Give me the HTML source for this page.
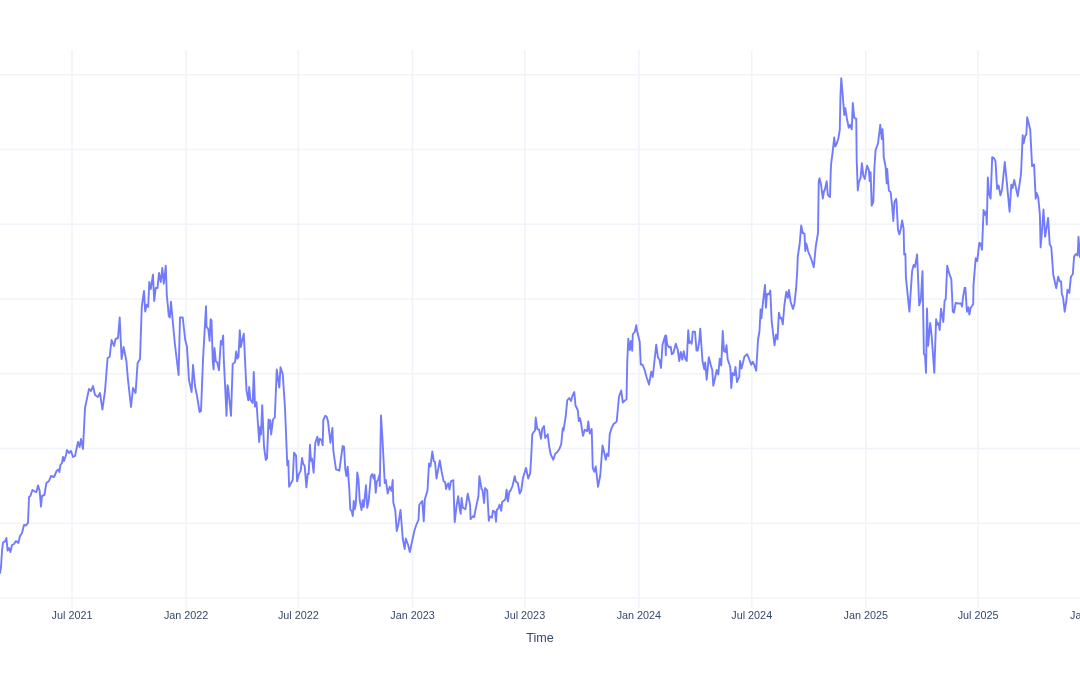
<!DOCTYPE html>
<html><head><meta charset="utf-8"><style>
html,body{margin:0;padding:0;background:#fff;width:1080px;height:675px;overflow:hidden}
svg{display:block;will-change:transform}
text{font-family:"Liberation Sans",sans-serif;fill:#34496a}
</style></head><body>
<svg width="1080" height="675" viewBox="0 0 1080 675">
<rect width="1080" height="675" fill="#fff"/>
<g stroke="#f0f3f9" stroke-width="1.6" fill="none"><line x1="0" y1="74.71" x2="1080" y2="74.71"/><line x1="0" y1="149.46" x2="1080" y2="149.46"/><line x1="0" y1="224.21" x2="1080" y2="224.21"/><line x1="0" y1="298.95" x2="1080" y2="298.95"/><line x1="0" y1="373.70" x2="1080" y2="373.70"/><line x1="0" y1="448.45" x2="1080" y2="448.45"/><line x1="0" y1="523.20" x2="1080" y2="523.20"/><line x1="0" y1="597.95" x2="1080" y2="597.95"/><line x1="72.00" y1="50" x2="72.00" y2="607.5"/><line x1="186.11" y1="50" x2="186.11" y2="607.5"/><line x1="298.37" y1="50" x2="298.37" y2="607.5"/><line x1="412.48" y1="50" x2="412.48" y2="607.5"/><line x1="524.74" y1="50" x2="524.74" y2="607.5"/><line x1="638.85" y1="50" x2="638.85" y2="607.5"/><line x1="751.73" y1="50" x2="751.73" y2="607.5"/><line x1="865.84" y1="50" x2="865.84" y2="607.5"/><line x1="978.10" y1="50" x2="978.10" y2="607.5"/><line x1="1092.21" y1="50" x2="1092.21" y2="607.5"/></g>
<g font-size="10.8" text-anchor="middle"><text x="72.00" y="618.7">Jul 2021</text><text x="186.11" y="618.7">Jan 2022</text><text x="298.37" y="618.7">Jul 2022</text><text x="412.48" y="618.7">Jan 2023</text><text x="524.74" y="618.7">Jul 2023</text><text x="638.85" y="618.7">Jan 2024</text><text x="751.73" y="618.7">Jul 2024</text><text x="865.84" y="618.7">Jan 2025</text><text x="978.10" y="618.7">Jul 2025</text><text x="1092.21" y="618.7">Jan 2026</text></g>
<text x="540" y="642.2" font-size="12.6" text-anchor="middle">Time</text>
<path d="M0,573 L1,567 L2,551 L3,542.6 L5,541.4 L6.4,538 L7.6,550.6 L9,548 L10.4,552 L12,545 L14,544 L16,541 L18.4,543 L20,536 L22,533 L24,525 L26,525.4 L28,523 L29,497 L30.4,496 L32.4,490 L35,491.6 L36.4,492 L38,485.4 L39.6,490.6 L41,506.6 L42,496 L44.4,495 L46.4,483 L49,481 L51,476 L54,477 L56.6,471 L58.4,469.4 L59.4,472 L60.4,465 L62,463 L63,457 L64,461 L66,455 L67,450 L69,453 L71,451 L73,457 L75,456 L78,442 L79.6,447 L81,439 L83,449 L85,408 L89,389 L91,391 L93,386 L95,395 L98,397 L100,393 L102.4,409.6 L105,391 L107.6,358 L109.6,357 L111.6,340 L114,346 L115.6,339 L118,338 L119.7,317.5 L121.6,359 L123.6,347 L126.4,361 L128,380 L131,407 L133,388 L135.6,393 L137.6,363 L140,359 L141.75,307 L144,291 L145.2,311.5 L146.7,304.75 L148.2,307 L149.25,282 L150.75,289 L153,274.75 L154.2,301 L155.7,288 L157.5,288 L159,273 L160.8,282 L162.3,268 L163.8,283.75 L165.75,265.75 L166.8,295 L168,307 L168.75,316 L169.8,317.5 L171,301.75 L172.8,322 L175,345 L178.6,375 L180,317.5 L182.7,317.5 L185.25,340 L187,347 L189,380 L191.6,392 L193,365 L195,386 L197,396 L199.6,412 L201,411 L203,360 L206,306.2 L206.5,326.6 L208.3,329.3 L209.6,340.9 L210.6,319.2 L211.5,320.4 L212.8,362.2 L213.6,369.3 L214.5,348 L215.8,361.3 L217.2,362.2 L219,370.2 L220.8,340.9 L222,344.4 L223.1,335.5 L223.8,359.5 L226.1,406.6 L226.5,415.75 L227.5,385.3 L228,386.5 L231,415.75 L232.7,363.9 L235,362.2 L236.2,351.5 L237.3,358.6 L238.5,356.8 L239.8,330.2 L240.8,347 L242.1,340.9 L243.8,333.7 L246.5,390.6 L248.3,400.4 L249.2,387 L250.4,399.5 L252.7,403 L253.8,371.9 L255,406.6 L256.5,402.25 L257.7,420.25 L259.2,442 L260.25,427 L261,434.5 L262.2,405.25 L264,446.5 L265.8,460 L267,458.5 L268.5,419.5 L269.7,428.5 L270.3,420.25 L271.2,434.5 L273,419.5 L274.8,417.25 L276.75,369.5 L279.3,387.5 L280.5,367.25 L282.75,374 L285,408.25 L287.3,465.3 L288.3,460.7 L289.1,486.7 L292.7,480 L294,452.7 L296,455.3 L297.1,481.3 L298.7,474.7 L300.7,470.7 L302,458 L303.3,464 L304.7,466 L306.4,487.3 L307.7,474 L308.7,474 L310,444.7 L310.9,460.7 L312,458.7 L313.6,472.7 L315.3,442.7 L317.3,436.7 L318.4,445.3 L319.7,438.7 L321.6,440 L322.7,445.3 L323.3,420 L325.3,415.7 L326.7,416.7 L328,421.3 L330.4,442.7 L332.4,428 L333.3,450.7 L336,469.3 L339.3,470.7 L342.7,446 L344,446.7 L345.3,469.3 L346.4,476 L347.7,466.7 L349.3,489.3 L350.25,509.25 L351.75,511.5 L352.8,516 L353.7,501 L354.75,509.25 L355.8,504 L357.3,472.5 L358.5,480 L359.7,500.25 L361.5,510 L362.7,500.25 L363.75,507 L366,485.25 L367.2,507.75 L368.7,501 L370.8,476.25 L372.3,474 L373.5,478.5 L374.55,474.75 L375.75,492.75 L376.8,481.5 L378,480 L379.5,474.75 L379.8,486 L381,415.5 L382.5,439.5 L384.75,483 L385.8,480 L387.75,493.5 L389.7,486.75 L391.5,491 L392.7,480 L393.3,502.5 L395.25,510 L396.75,531 L398.25,525 L400.5,510 L402.75,538.5 L404.7,549 L405.75,538.5 L408,544.5 L409.8,552 L411.75,543 L414.3,531 L416.25,525 L418.5,519.75 L419.25,504.75 L422.25,501 L423.75,521.25 L424.8,499.5 L427.5,490.5 L429,463.5 L430.5,466.5 L432.3,451.5 L433.8,461.25 L435,462 L436.5,478.5 L439.8,460.5 L441.6,471.4 L443.6,481.3 L445.2,482.3 L446,489 L447.3,484.9 L448.3,483.3 L449.5,489.6 L450.9,481.3 L453.3,480.2 L454.7,522.2 L456.6,505.6 L458.2,496.3 L459.7,508.8 L460.7,513.9 L461.6,497.9 L462.8,507.7 L465.4,509.3 L467.8,493.7 L470.1,505.1 L470.6,519.1 L473.2,516 L474.2,517.1 L475.3,510.8 L478.4,496.3 L479.4,476.1 L481.5,489 L482.5,490.1 L484.1,503 L485.1,488 L487.2,490.6 L488.8,520.7 L489.8,516.5 L491.9,517.6 L492.9,510.8 L495,511.9 L496,521.7 L496.8,509.8 L498.1,508.8 L499.6,504.6 L501.2,510.8 L502.2,502 L505.4,499.4 L506.6,489.6 L507.9,501.5 L509.5,491.1 L510.25,491.25 L512.5,486 L514.75,476.25 L515.8,481.5 L517.75,483 L519.7,493.5 L521.2,490.5 L523,477.75 L526,468 L528.25,478.5 L530.2,473.25 L531.25,456 L532.3,434.25 L533.8,432 L535,430.5 L535.75,417.5 L537.25,429 L539.2,429.75 L541,438.75 L542.2,429 L544,426 L545.2,438 L547.75,434.25 L549.25,447 L550.75,454.5 L553.3,459.75 L555.25,453.75 L557.2,452.25 L559.3,449.25 L561.25,444 L562.75,428.25 L563.5,430.5 L565.75,416 L567.25,400.25 L569.2,398 L571,401 L572.5,395.75 L574.3,392 L575.5,405.5 L577.75,410 L578.8,421 L580,418.25 L580.75,421.5 L583,435.75 L584.8,429.75 L587.2,431.25 L588.25,421.5 L589.75,433.5 L591.7,429 L592.75,468 L594.25,471.75 L595.75,466.5 L596.8,475.5 L598,486.75 L600.25,475.5 L602.5,445.5 L604,451.5 L605.8,459.75 L607,453.75 L608.5,456 L609.7,434.25 L611.8,427.5 L613.75,423.75 L616,422.25 L616.75,421 L619,396.5 L621.25,390.5 L622.75,402.5 L625,400.25 L626.5,399.5 L627.25,362 L628.3,338.75 L629.8,350 L631,341 L632.2,350.75 L632.8,334.25 L634.75,332 L636.25,325.25 L637,330.5 L639.7,341.75 L640.75,364.25 L642.7,365 L644.5,369.5 L646.75,377.75 L649,384.5 L651.25,371.75 L652.75,377 L656.2,344.75 L658,357.5 L659.5,359.75 L661,368 L662.5,344.75 L664,339.5 L665.2,335.75 L665.8,355.25 L666.2,335.5 L667.25,344.5 L669.2,347.5 L670.7,346.75 L671.75,354.25 L673.25,353.5 L675.8,343.75 L677.75,349.75 L679.25,361 L680.75,352 L682.25,359.5 L683.75,351.25 L685.25,358.75 L686.75,361 L688.25,330.25 L689.3,343 L690.5,341.5 L691.7,343.75 L692.75,331.75 L695,331.75 L696.5,350.5 L697.7,350.5 L699.2,341.5 L700.25,328.75 L701.75,350.5 L702.5,361 L704.3,369.25 L705.2,362.5 L706.7,379.75 L708.8,357.25 L710.75,364.75 L712.25,370 L713.3,385.75 L714.5,380.5 L716.75,370 L718.25,374.5 L719.75,358.75 L721.25,365.5 L722.75,331 L724,351.25 L725.5,352 L726.5,345.25 L727.7,359.5 L730.25,367 L731.3,388 L732.5,373 L734.3,375.25 L735.5,367 L737,382 L739.25,376.75 L740,361 L741.5,368.5 L744.5,356.5 L747.2,354.25 L749,358.75 L751.25,364.75 L752.75,361.75 L754.25,364.75 L756.2,370.75 L758,340 L759.5,331 L760.6,309.4 L761.4,318.3 L762.8,303.9 L765,285 L765.9,307.8 L767,293.9 L768.9,294.4 L770.3,290.6 L771.7,321.7 L774.5,345.25 L776,334.75 L777.5,339.25 L778.9,312.8 L780.3,318.3 L781.4,317.8 L782.8,324.4 L784.4,305 L786.3,291.7 L787.8,297.8 L788.9,290 L790.6,301.7 L793,308.9 L794.4,303.9 L796.1,288.3 L797.2,271.7 L797.75,257 L799.7,243.5 L801.2,225.5 L802.7,233 L804.5,233.75 L805.25,251 L806.3,243.5 L808.25,251.75 L810.5,257 L812,261.5 L813.8,267.2 L815.75,246.5 L818,233 L818.75,181.25 L819.5,178.25 L821,184.25 L822.8,198.5 L824,191 L824.75,190.25 L826.7,181.25 L827.75,194.75 L830,197 L830.75,171 L831.2,163 L832.7,151.75 L834.2,137.5 L835.25,146.5 L836.75,143.5 L838.25,139 L839.75,130 L840.5,94.75 L841.25,78.25 L842.75,95.5 L844.25,115 L845.3,108.25 L846.8,118 L848.75,127.75 L850.25,124.75 L851.75,129.25 L852.8,103 L854.3,118 L856.25,118.75 L856.7,160 L857.8,190.5 L858.9,182.2 L860.6,177.8 L861.9,163.3 L863.3,175.6 L864.8,178.9 L867,165.6 L868.9,170 L869.7,181.1 L870.6,172.2 L871.7,205.6 L873.3,202.2 L874.4,167.8 L875.6,150 L878,143.5 L880.25,124.75 L881.75,139 L882.5,129.25 L883.2,139 L883.7,156.7 L885.6,166.7 L886.7,183.3 L887.2,168.9 L888.1,182.2 L888.9,190.5 L890.6,192.2 L892.2,206.7 L893.3,221 L894.4,202.2 L896.1,198.9 L896.5,201.9 L898,230 L899.4,234.4 L900.9,228.5 L902.1,220.4 L903.6,228.5 L904.2,254.5 L905.4,253.7 L905.9,277.3 L908,298.1 L909.4,311.6 L912.1,271.1 L913.6,264.9 L915,267 L917.1,254.5 L919.2,305.4 L920.8,300.2 L922.5,271.1 L923.9,354.1 L925,355.1 L926,372.8 L927,308.5 L928.1,345.8 L930.2,323 L931.6,335.4 L934.3,372.8 L936.1,319.3 L937.4,324.7 L938.7,323.3 L939.7,330 L941,308.7 L943.3,322 L944.6,300.7 L945.7,299.3 L947.2,265.8 L949.5,274.4 L951.3,279 L952.8,311.7 L954,312.4 L955.7,302.8 L958,303.5 L960.9,303.5 L962,306.5 L963.1,296.9 L964.6,287.8 L965.4,288 L966.9,311.7 L968.3,307.2 L969.4,314.6 L970.6,308 L973.2,304.3 L973.5,284.8 L975.7,258.1 L977.2,261.1 L979.4,242.6 L980.8,244.1 L982,249.8 L983.6,209.9 L984.9,214.8 L986.2,211.5 L986.8,224.5 L987.8,177.5 L989,193.8 L990.6,198.6 L992.2,157.1 L993.8,157.9 L995.5,161.2 L997.1,188.9 L998.7,185.6 L1000.4,195.4 L1002,189.7 L1004.8,162 L1006.9,183.2 L1009.6,211.7 L1011.3,184.8 L1012.6,188.1 L1014.2,179.9 L1017.8,196.2 L1021,174.2 L1022.7,135.1 L1023.6,143.3 L1025.3,135.9 L1026.4,134.3 L1027.2,117.2 L1030.2,129.4 L1032.1,166.1 L1034.1,164.4 L1035.7,198.6 L1036.7,193 L1038.3,197.8 L1039.9,215 L1040.6,247.3 L1041.9,232.7 L1043.5,209.5 L1045.1,236.8 L1048.1,218 L1049.7,244.1 L1051.3,247.3 L1053.3,275 L1054.6,280.7 L1056.2,288.1 L1058.2,276.7 L1059.8,281.5 L1061.1,281.5 L1061.8,293.8 L1063.1,297.8 L1064.7,311.7 L1066.3,301.1 L1067.5,289.7 L1069.3,292.9 L1070.9,276.7 L1072.8,274.2 L1074.1,256.3 L1076.1,253.9 L1077.7,255.5 L1078.5,236.8 L1080,257.1 L1081,255" fill="none" stroke="#636efa" stroke-width="1.9" stroke-opacity="0.9" stroke-linejoin="round" stroke-linecap="round"/>
</svg>
</body></html>
